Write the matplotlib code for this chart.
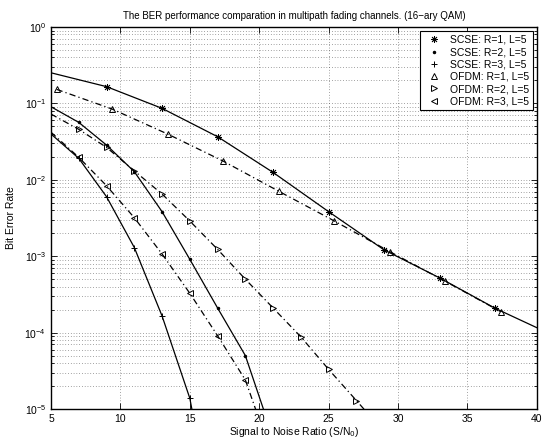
import matplotlib
matplotlib.use('Agg')
import matplotlib.pyplot as plt
from matplotlib.lines import Line2D
from matplotlib.ticker import LogLocator, NullFormatter, MultipleLocator

plt.rcParams['font.family'] = ['Liberation Sans', 'DejaVu Sans']

# SNR (dB) and BER
snr_scse1 = [5, 9, 13, 17, 21, 25, 29, 33, 37, 40]
ber_scse1 = [0.252, 0.166, 0.0863, 0.0367, 0.0125, 0.00383, 0.00121, 5.2e-4, 2.08e-4, 1.16e-4]

snr_scse2 = [5, 7, 9, 11, 13, 15, 17, 19, 21]
ber_scse2 = [0.0905, 0.0565, 0.0285, 0.0128, 0.00383, 9.1e-4, 2.1e-4, 5.0e-5, 4.2e-6]

snr_scse3 = [5, 7, 9, 11, 13, 15, 16]
ber_scse3 = [0.0398, 0.0191, 0.00601, 0.0013, 1.65e-4, 1.38e-5, 1.5e-6]

snr_ofdm1 = [5.4, 9.4, 13.4, 17.4, 21.4, 25.4, 29.4, 33.4, 37.4]
ber_ofdm1 = [0.153, 0.0845, 0.0398, 0.0176, 0.0071, 0.0029, 0.00115, 4.7e-4, 1.88e-4]

snr_ofdm2 = [5, 7, 9, 11, 13, 15, 17, 19, 21, 23, 25, 27, 29]
ber_ofdm2 = [0.0726, 0.0458, 0.0266, 0.0131, 0.00652, 0.00289, 0.00123, 5.0e-4, 2.1e-4, 8.8e-5, 3.3e-5, 1.29e-5, 5e-6]

snr_ofdm3 = [5, 7, 9, 11, 13, 15, 17, 19, 21]
ber_ofdm3 = [0.042, 0.0197, 0.00837, 0.00319, 0.00107, 3.27e-4, 9.1e-5, 2.4e-5, 2.2e-6]

labels = ['SCSE: R=1, L=5', 'SCSE: R=2, L=5', 'SCSE: R=3, L=5',
          'OFDM: R=1, L=5', 'OFDM: R=2, L=5', 'OFDM: R=3, L=5']

fig = plt.figure(figsize=(5.44, 4.41), dpi=100)
ax = fig.add_axes([0.0938, 0.0726, 0.893, 0.866])

lw = 0.9
ms = 5
dd = (5, 2.5, 1, 2.5)  # dash-dot pattern
ax.semilogy(snr_scse1, ber_scse1, '-', color='k', lw=lw, marker=(8, 2, 0), ms=ms,
            mew=0.6, markevery=slice(1, 9))
ax.semilogy(snr_scse2, ber_scse2, '-', color='k', lw=lw, marker='.', ms=3,
            markevery=slice(1, 8))
ax.semilogy(snr_scse3, ber_scse3, '-', color='k', lw=lw, marker='+', ms=ms,
            mew=0.7, markevery=slice(1, 6))
ax.semilogy(snr_ofdm1, ber_ofdm1, color='k', lw=lw, dashes=dd, marker='^', ms=ms,
            mfc='none', mew=0.7)
ax.semilogy(snr_ofdm2, ber_ofdm2, color='k', lw=lw, dashes=dd, marker='>', ms=ms,
            mfc='none', mew=0.7, markevery=slice(1, 12))
ax.semilogy(snr_ofdm3, ber_ofdm3, color='k', lw=lw, dashes=dd, marker='<', ms=ms,
            mfc='none', mew=0.7, markevery=slice(1, 8))

ax.set_xlim(5, 40)
ax.set_ylim(1e-5, 1)
ax.xaxis.set_major_locator(MultipleLocator(5))
ax.yaxis.set_major_locator(LogLocator(base=10, numticks=10))
ax.yaxis.set_minor_locator(LogLocator(base=10, subs=range(2, 10), numticks=20))
ax.yaxis.set_minor_formatter(NullFormatter())

for which, axis in [('major', 'both'), ('minor', 'y')]:
    ax.grid(True, which=which, axis=axis, color='0.3', lw=0.5, dashes=(1, 3))
ax.tick_params(which='both', direction='in', top=True, right=True, labelsize=7.5,
               width=0.6)
ax.tick_params(which='major', length=4)
ax.tick_params(which='minor', length=2)
for s in ax.spines.values():
    s.set_linewidth(1.0)

ax.set_xlabel('Signal to Noise Ratio (S/N$_0$)', fontsize=7.5, labelpad=1)
ax.set_ylabel('Bit Error Rate', fontsize=7.5, labelpad=6)
ax.set_title('The BER performance comparation in multipath fading channels. (16\u2212ary QAM)',
             fontsize=7, pad=6)

handles = [
    Line2D([], [], ls='none', color='k', marker=(8, 2, 0), ms=ms, mew=0.6),
    Line2D([], [], ls='none', color='k', marker='.', ms=3),
    Line2D([], [], ls='none', color='k', marker='+', ms=ms, mew=0.7),
    Line2D([], [], ls='none', color='k', marker='^', ms=ms, mfc='none', mew=0.7),
    Line2D([], [], ls='none', color='k', marker='>', ms=ms, mfc='none', mew=0.7),
    Line2D([], [], ls='none', color='k', marker='<', ms=ms, mfc='none', mew=0.7),
]
leg = ax.legend(handles, labels, loc='upper right', fontsize=7.5, fancybox=False,
                framealpha=1, edgecolor='k', borderpad=0.35, labelspacing=0.22,
                handlelength=2.0, handletextpad=0.5, borderaxespad=0.4)
leg.get_frame().set_linewidth(0.8)

fig.savefig('out.png', dpi=100)
